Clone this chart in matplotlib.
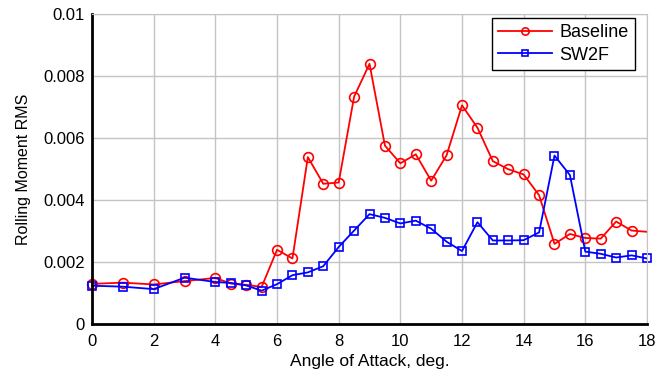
import numpy as np
import matplotlib.pyplot as plt

plt.rcParams['font.family'] = ['Liberation Sans', 'DejaVu Sans']

aoa = [0, 1, 2, 3, 4, 4.5, 5, 5.5, 6, 6.5, 7, 7.5, 8, 8.5, 9, 9.5, 10, 10.5,
       11, 11.5, 12, 12.5, 13, 13.5, 14, 14.5, 15, 15.5, 16, 16.5, 17, 17.5, 18]
baseline = [1.29, 1.33, 1.27, 1.38, 1.48, 1.30, 1.26, 1.19, 2.39, 2.11, 5.38, 4.52,
            4.56, 7.33, 8.39, 5.75, 5.18, 5.47, 4.62, 5.44, 7.05, 6.33, 5.25, 4.99,
            4.82, 4.15, 2.58, 2.90, 2.77, 2.75, 3.30, 3.01, 2.97]
sw2f = [1.23, 1.20, 1.12, 1.49, 1.35, 1.32, 1.24, 1.07, 1.28, 1.57, 1.66, 1.86,
        2.48, 3.01, 3.54, 3.42, 3.24, 3.33, 3.07, 2.65, 2.35, 3.28, 2.69, 2.69,
        2.70, 2.95, 5.43, 4.80, 2.33, 2.26, 2.14, 2.21, 2.11]
baseline = [v * 1e-3 for v in baseline]
sw2f = [v * 1e-3 for v in sw2f]

fig = plt.figure(figsize=(6.67, 3.77), dpi=100)
ax = fig.add_axes([0.138, 0.141, 0.832, 0.822])

n = len(aoa)
ax.plot(aoa, baseline, color='red', lw=1.3, marker='o', ms=7, mfc='none',
        mew=1.2, markevery=list(range(n - 1)), label='Baseline', clip_on=False)
ax.plot(aoa, sw2f, color='blue', lw=1.3, marker='s', ms=5.5, mfc='none',
        mew=1.2, label='SW2F', clip_on=False)

ax.set_xlim(0, 18)
ax.set_ylim(0, 0.01)
ax.set_xticks(np.arange(0, 19, 2))
ax.set_yticks([0, 0.002, 0.004, 0.006, 0.008, 0.01])
ax.set_yticklabels(['0', '0.002', '0.004', '0.006', '0.008', '0.01'])
ax.tick_params(length=0, labelsize=12, pad=5)
ax.tick_params(axis='x', pad=7)
ax.grid(True, color='#c4c4c4', lw=1)
ax.set_axisbelow(True)
for s in ['top', 'right']:
    ax.spines[s].set_color('#c4c4c4')
for s in ['left', 'bottom']:
    ax.spines[s].set_linewidth(2)
ax.set_xlabel('Angle of Attack, deg.', fontsize=12.5, labelpad=4)
ax.set_ylabel('Rolling Moment RMS', fontsize=11.5, labelpad=9)

leg = ax.legend(loc='upper right', bbox_to_anchor=(0.978, 0.987), fontsize=13,
                fancybox=False, framealpha=1, edgecolor='black', borderaxespad=0,
                handlelength=3.0, markerscale=0.75, labelspacing=0.3,
                handletextpad=0.4, borderpad=0.35)
leg.get_frame().set_linewidth(1)

fig.savefig('out.png', dpi=100)
